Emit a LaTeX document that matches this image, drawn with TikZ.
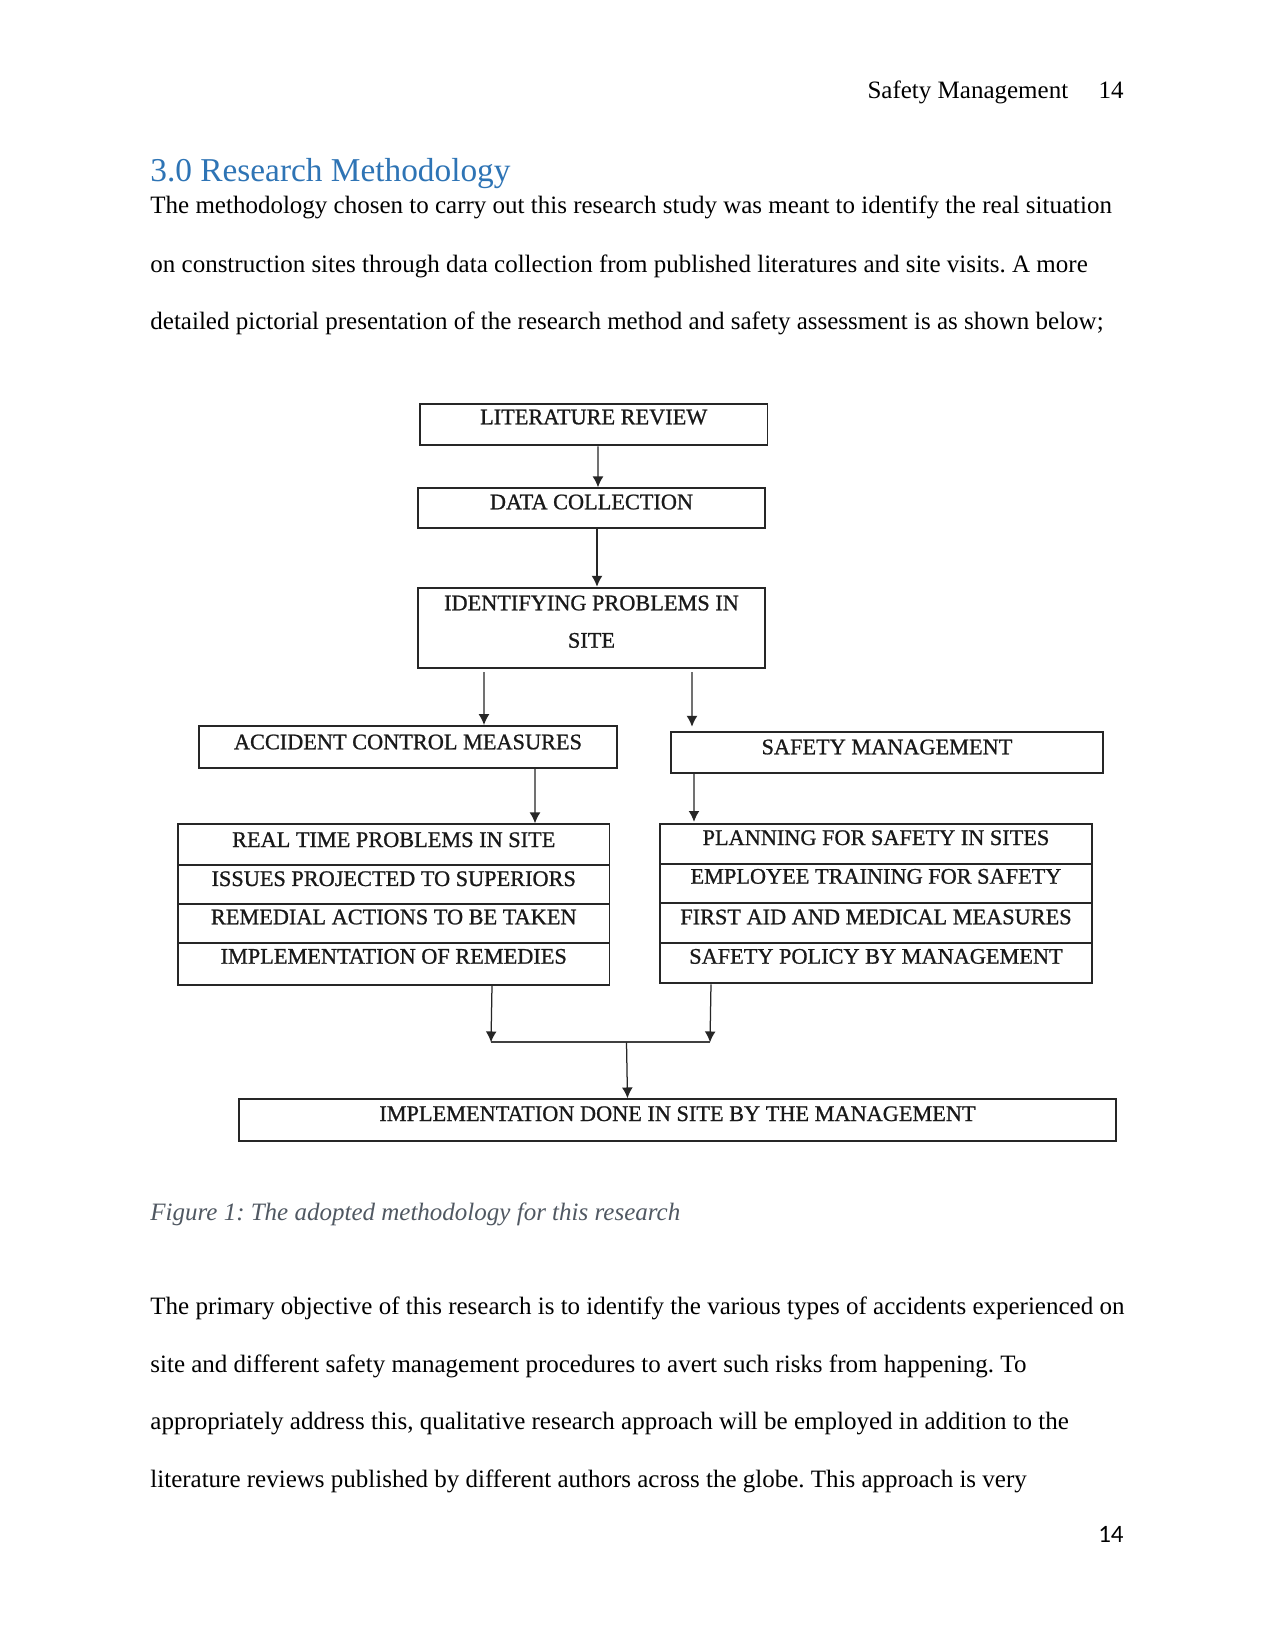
\documentclass[tikz,border=0pt]{standalone}
\usepackage{fontspec}
\setmainfont{Liberation Serif}
\newfontfamily\footfont{Carlito}
\newfontfamily\diagfam{Liberation Serif}[BoldFont={Liberation Serif}, BoldFeatures={FakeBold=0.9}]
\usetikzlibrary{arrows.meta,calc}
\definecolor{headblue}{HTML}{2E74B5}
\definecolor{capgray}{RGB}{80,88,98}
\newcommand\diagfont{\diagfam\bfseries\fontsize{10.7}{12.8}\selectfont}
\newcommand\bodytextfont{\fontsize{12}{14}\selectfont}
\frenchspacing
\begin{document}
\frenchspacing
\begin{tikzpicture}[x=0.48pt,y=-0.48pt,
  dbox/.style={draw=black!85, line width=0.95pt, inner sep=0pt, anchor=north west, font=\diagfont, text=black!90},
  arr/.style={draw=black!85, line width=0.6pt, -{Latex[length=5.2pt,width=5.2pt]}},
  jline/.style={draw=black!75, line width=0.9pt},
  ptext/.style={anchor=base west, inner sep=0pt, font=\bodytextfont}]
\useasboundingbox (0,0) rectangle (1275,1651);
\fill[white] (0,0) rectangle (1275,1651);

% page header
\node[anchor=base east, inner sep=0pt, font=\bodytextfont] (hdr) at (1068.6,98.8) {Safety Management};
\node[anchor=base east, inner sep=0pt, font=\bodytextfont] (hpg) at (1124,98.8) {14};

% heading
\node[anchor=base west, inner sep=0pt, font=\fontsize{16}{19}\selectfont, text=headblue] (head) at (150,182) {3.0 Research Methodology};

% first paragraph
\node[ptext] (p1) at (150,214) {The methodology chosen to carry out this research study was meant to identify the real situation};
\node[ptext] (p2) at (150,272) {on construction sites through data collection from published literatures and site visits. A more};
\node[ptext] (p3) at (150,329) {detailed pictorial presentation of the research method and safety assessment is as shown below;};

% diagram boxes
\node[dbox, minimum width=166.8pt, text height=9.6pt, text depth=10.08pt] (lr) at (419,403.3) {LITERATURE REVIEW};
\node[dbox, minimum width=166.56pt, text height=10.08pt, text depth=8.83pt] (dc) at (417,487.3) {DATA COLLECTION};
\node[dbox, minimum width=166.56pt, text height=10.85pt, text depth=27.55pt] (ip) at (417,586.7)
  {\begin{tabular}[t]{@{}c@{}}IDENTIFYING PROBLEMS IN\\[5.15pt]SITE\end{tabular}};
\node[dbox, minimum width=200.64pt, text height=11.18pt, text depth=8.83pt] (acm) at (198,725) {ACCIDENT CONTROL MEASURES};
\node[dbox, minimum width=207.36pt, text height=10.7pt, text depth=8.83pt] (sm) at (670,731) {SAFETY MANAGEMENT};

\node[dbox, minimum width=207.12pt, text height=10.9pt, text depth=8.64pt] (l1) at (177,823.3) {REAL TIME PROBLEMS IN SITE};
\node[dbox, minimum width=207.12pt, text height=10.08pt, text depth=8.78pt] (l2) at (177,864) {ISSUES PROJECTED TO SUPERIORS};
\node[dbox, minimum width=207.12pt, text height=9.6pt, text depth=9.12pt] (l3) at (177,903.3) {REMEDIAL ACTIONS TO BE TAKEN};
\node[dbox, minimum width=207.12pt, text height=9.79pt, text depth=10.22pt] (l4) at (177,942.3) {IMPLEMENTATION OF REMEDIES};

\node[dbox, minimum width=207.36pt, text height=9.94pt, text depth=8.98pt] (r1) at (659,823.3) {PLANNING FOR SAFETY IN SITES};
\node[dbox, minimum width=207.36pt, text height=9.6pt, text depth=9.12pt] (r2) at (659,862.7) {EMPLOYEE TRAINING FOR SAFETY};
\node[dbox, minimum width=207.36pt, text height=10.37pt, text depth=8.83pt] (r3) at (659,901.7) {FIRST AID AND MEDICAL MEASURES};
\node[dbox, minimum width=207.36pt, text height=10.08pt, text depth=9.41pt] (r4) at (659,941.7) {SAFETY POLICY BY MANAGEMENT};

\node[dbox, minimum width=420.96pt, text height=10.42pt, text depth=9.6pt] (bot) at (238,1098.3) {IMPLEMENTATION DONE IN SITE BY THE MANAGEMENT};

% junction points
\coordinate (jl) at (491,1042.3);
\coordinate (jr) at (710,1042.3);
\coordinate (jm) at (626.5,1042.3);

% connectors
\draw[arr] ([xshift=2.04pt]lr.south) -- ([xshift=3.12pt]dc.north);
\draw[arr] ([xshift=2.64pt]dc.south) -- ([xshift=2.64pt]ip.north);
\draw[arr] ([xshift=-51.6pt,yshift=-1.6pt]ip.south) -- ([xshift=36.48pt]acm.north);
\draw[arr] ([xshift=48.24pt,yshift=-1.6pt]ip.south) -- ([xshift=-93.6pt,yshift=2.06pt]sm.north);
\draw[arr] ([xshift=60.96pt]acm.south) -- ([xshift=67.8pt]l1.north);
\draw[arr] ([xshift=-92.64pt]sm.south) -- ([xshift=-87.36pt,yshift=0.7pt]r1.north);
\draw[arr] ([xshift=47.16pt]l4.south) -- (jl);
\draw[arr] ([xshift=-79.2pt]r4.south) -- (jr);
\draw[jline] (jl) -- (jr);
\draw[arr] (jm) -- ([xshift=-24pt]bot.north);

% caption
\node[anchor=base west, inner sep=0pt, font=\bodytextfont\itshape, text=capgray] (cap) at (150,1220) {Figure 1: The adopted methodology for this research};

% second paragraph
\node[ptext] (q1) at (150,1314.5) {The primary objective of this research is to identify the various types of accidents experienced on};
\node[ptext] (q2) at (150,1372) {site and different safety management procedures to avert such risks from happening. To};
\node[ptext] (q3) at (150,1429.5) {appropriately address this, qualitative research approach will be employed in addition to the};
\node[ptext] (q4) at (150,1487) {literature reviews published by different authors across the globe. This approach is very};

% footer
\node[anchor=base east, inner sep=0pt, font=\footfont\fontsize{12}{14}\selectfont] (fpg) at (1124,1542) {14};
\end{tikzpicture}
\end{document}
